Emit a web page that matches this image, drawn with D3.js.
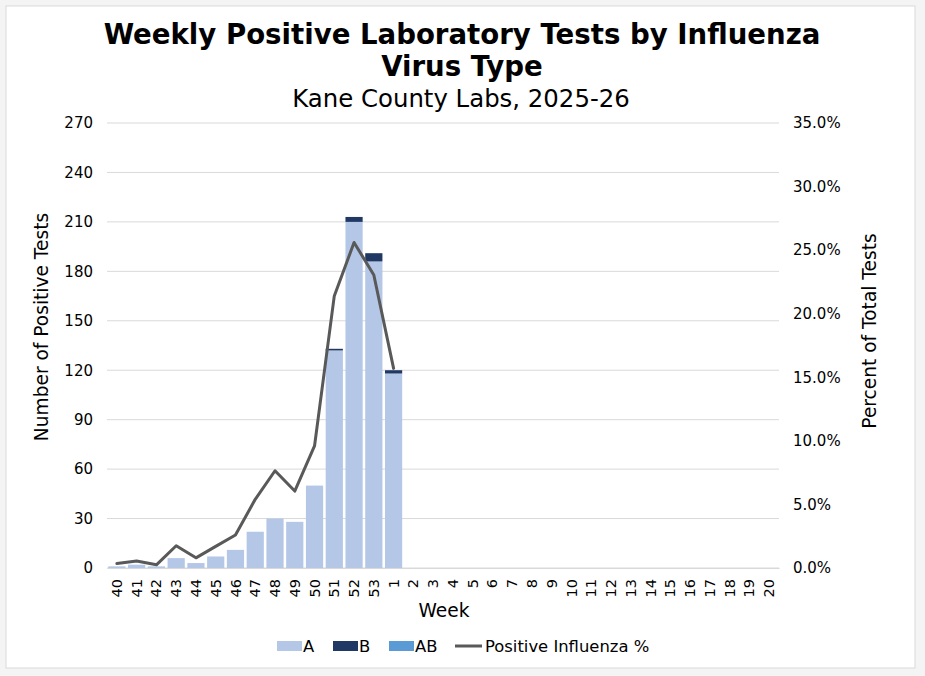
<!DOCTYPE html>
<html><head><meta charset="utf-8">
<script src="https://cdn.jsdelivr.net/npm/d3@7"></script>
<style>body{margin:0;background:#f4f4f4;}svg{display:block;font-family:"DejaVu Sans",Verdana,sans-serif;}</style>
</head><body><svg id="c" width="925" height="676"></svg>
<script>
const weeks = ["40","41","42","43","44","45","46","47","48","49","50","51","52","53","1","2","3","4","5","6","7","8","9","10","11","12","13","14","15","16","17","18","19","20"];
const seriesA = [1,2,1,6,3,7,11,22,30,28,50,132,210,186,118];
const seriesB = [0,0,0,0,0,0,0,0,0,0,0,1,3,5,2];
const seriesAB = [0,0,0,0,0,0,0,0,0,0,0,0,0,0,0];
const pctPositive = [0.35,0.55,0.25,1.75,0.8,1.7,2.6,5.4,7.65,6.05,9.6,21.4,25.6,23.05,15.7];
const leftTicks = [0,30,60,90,120,150,180,210,240,270];
const rightTicks = [0,5,10,15,20,25,30,35];

const svg = d3.select("#c");
svg.append("rect").attr("x",6).attr("y",6).attr("width",909).attr("height",662).attr("fill","#fff").attr("stroke","#d9d9d9");

const L=107,R=779,T=123,B=568;
const x = d3.scaleBand().domain(weeks).range([L,R]).paddingInner(0.13).paddingOuter(0.065);
const y = d3.scaleLinear().domain([0,270]).range([B,T]);
const y2 = d3.scaleLinear().domain([0,35]).range([B,T]);

// gridlines
svg.append("g").selectAll("line").data(leftTicks).join("line")
  .attr("x1",L).attr("x2",R).attr("y1",d=>y(d)).attr("y2",d=>y(d))
  .attr("stroke","#d9d9d9").attr("stroke-width",1);

// stacked bars
const rows = seriesA.map((a,i)=>({w:weeks[i],A:a,B:seriesB[i],AB:seriesAB[i]}));
const stack = d3.stack().keys(["A","B","AB"])(rows);
const colors = {A:"#b4c7e7",B:"#203864",AB:"#5b9bd5"};
stack.forEach(s=>{
  svg.append("g").selectAll("rect").data(s).join("rect")
    .attr("x",d=>x(d.data.w)).attr("width",x.bandwidth())
    .attr("y",d=>y(d[1])).attr("height",d=>y(d[0])-y(d[1]))
    .attr("fill",colors[s.key]);
});

// line
const line = d3.line().x((d,i)=>x(weeks[i])+x.bandwidth()/2).y(d=>y2(d));
svg.append("path").datum(pctPositive).attr("d",line).attr("fill","none")
  .attr("stroke","#595959").attr("stroke-width",3).attr("stroke-linejoin","round").attr("stroke-linecap","round");

// axes
const la = svg.append("g").attr("transform",`translate(${L},0)`)
  .call(d3.axisLeft(y).tickValues(leftTicks).tickSize(0).tickPadding(14));
la.select(".domain").remove();
la.selectAll("text").attr("font-size",15).attr("fill","#000").attr("font-family","DejaVu Sans");

const ra = svg.append("g").attr("transform",`translate(${R},0)`)
  .call(d3.axisRight(y2).tickValues(rightTicks).tickSize(0).tickPadding(14).tickFormat(d=>d.toFixed(1)+"%"));
ra.select(".domain").remove();
ra.selectAll("text").attr("font-size",15).attr("fill","#000").attr("font-family","DejaVu Sans");

const xa = svg.append("g").attr("transform",`translate(0,${B})`)
  .call(d3.axisBottom(x).tickSize(0));
xa.select(".domain").attr("stroke","#d9d9d9");
xa.selectAll("text").attr("font-size",14.5).attr("fill","#000").attr("font-family","DejaVu Sans")
  .attr("transform","rotate(-90)").attr("text-anchor","end").attr("dx","-11px").attr("dy","0.35em").attr("y",0);

// titles
svg.append("text").attr("x",462).attr("y",44).attr("text-anchor","middle").attr("font-weight","bold").attr("font-size",27.6)
  .text("Weekly Positive Laboratory Tests by Influenza");
svg.append("text").attr("x",462).attr("y",76).attr("text-anchor","middle").attr("font-weight","bold").attr("font-size",27.6)
  .text("Virus Type");
svg.append("text").attr("x",461).attr("y",107).attr("text-anchor","middle").attr("font-size",24.4)
  .text("Kane County Labs, 2025-26");

svg.append("text").attr("x",444).attr("y",617).attr("text-anchor","middle").attr("font-size",18.6).text("Week");
svg.append("text").attr("transform","translate(48,327) rotate(-90)").attr("text-anchor","middle").attr("font-size",18.6).text("Number of Positive Tests");
svg.append("text").attr("transform","translate(876,331) rotate(-90)").attr("text-anchor","middle").attr("font-size",18.6).text("Percent of Total Tests");

// legend
const leg = svg.append("g");
const items = [{k:"A",x:277},{k:"B",x:333},{k:"AB",x:389}];
items.forEach(it=>{
  leg.append("rect").attr("x",it.x).attr("y",641).attr("width",25).attr("height",10).attr("fill",colors[it.k]);
  leg.append("text").attr("x",it.x+26).attr("y",652).attr("font-size",16.4).text(it.k);
});
leg.append("line").attr("x1",455).attr("x2",482).attr("y1",646).attr("y2",646).attr("stroke","#595959").attr("stroke-width",3);
leg.append("text").attr("x",485).attr("y",652).attr("font-size",16.4).text("Positive Influenza %");
</script></body></html>
